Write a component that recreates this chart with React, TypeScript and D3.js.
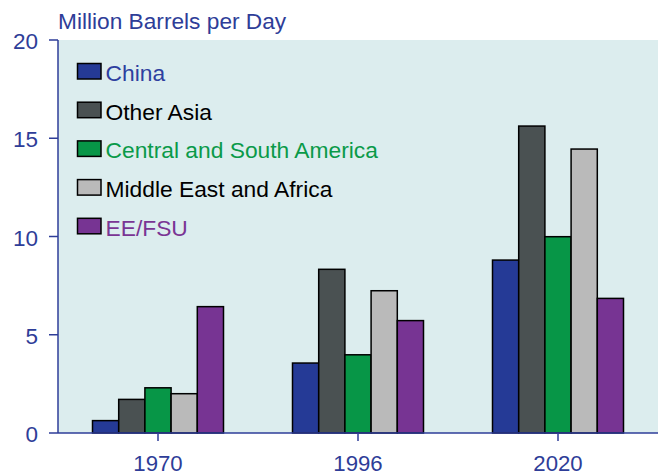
import React from "react";
import * as d3 from "d3";

const years = ["1970", "1996", "2020"];
const seriesNames = ["China", "Other Asia", "Central and South America", "Middle East and Africa", "EE/FSU"];
const china = [0.63, 3.56, 8.8];
const otherAsia = [1.71, 8.33, 15.62];
const centralSouthAmerica = [2.3, 3.98, 9.99];
const middleEastAfrica = [2.0, 7.24, 14.45];
const eeFsu = [6.43, 5.72, 6.85];
const yTicks = [0, 5, 10, 15, 20];

const fills = ["#253a96", "#4a5152", "#079647", "#bababa", "#773493"];
const textColors = ["#2e3f9f", "#000000", "#0a9a49", "#000000", "#7a3594"];
const AXIS = "#2e3d98";
const FONT = "'Liberation Sans', Arial, Helvetica, sans-serif";

const W = 658;
const H = 474;
const left = 58;
const top = 40;
const bottom = 433;

export default function App() {
  const values = [china, otherAsia, centralSouthAmerica, middleEastAfrica, eeFsu];
  const x0 = d3.scaleBand<string>().domain(years).range([left, W]).paddingInner(0.345).paddingOuter(0.1725);
  const x1 = d3.scaleBand<string>().domain(seriesNames).range([0, x0.bandwidth()]);
  const y = d3.scaleLinear().domain([0, 20]).range([bottom, top]);

  return (
    <svg width={W} height={H} style={{ position: "absolute", left: 0, top: 0, background: "#fff" }} fontFamily={FONT}>
      <rect x={left} y={top} width={W - left} height={bottom - top} fill="#dcedee" />
      <text x={left} y={29} fontSize={22.7} fill={AXIS}>Million Barrels per Day</text>
      {/* legend */}
      {seriesNames.map((s, i) => (
        <g key={s} transform={`translate(77.5, ${63.5 + i * 38.7})`}>
          <rect x={0} y={0} width={23.5} height={15.5} fill={fills[i]} stroke="#000" strokeWidth={1.5} />
          <text x={28} y={17.3} fontSize={22.8} fill={textColors[i]}>{s}</text>
        </g>
      ))}
      {/* bars */}
      {years.map((yr, gi) => (
        <g key={yr} transform={`translate(${x0(yr)},0)`}>
          {seriesNames.map((s, si) => (
            <rect
              key={s}
              x={x1(s)}
              y={y(values[si][gi])}
              width={x1.bandwidth()}
              height={bottom - y(values[si][gi])}
              fill={fills[si]}
              stroke="#000"
              strokeWidth={1.5}
            />
          ))}
        </g>
      ))}
      {/* y axis */}
      <line x1={left} y1={top} x2={left} y2={bottom} stroke={AXIS} strokeWidth={1.5} />
      {yTicks.map((t) => (
        <g key={t}>
          <line x1={49} x2={left} y1={y(t)} y2={y(t)} stroke={AXIS} strokeWidth={1.5} />
          <text x={38} y={y(t) + 9} textAnchor="end" fontSize={22.5} fill={AXIS}>{t}</text>
        </g>
      ))}
      {/* x axis */}
      <line x1={left} y1={bottom} x2={W} y2={bottom} stroke={AXIS} strokeWidth={1.5} />
      {years.map((yr) => {
        const cx = (x0(yr) as number) + x0.bandwidth() / 2;
        return (
          <g key={yr}>
            <line x1={cx} x2={cx} y1={bottom} y2={441} stroke={AXIS} strokeWidth={1.5} />
            <text x={cx} y={470.5} textAnchor="middle" fontSize={22.2} fill={AXIS}>{yr}</text>
          </g>
        );
      })}
    </svg>
  );
}
